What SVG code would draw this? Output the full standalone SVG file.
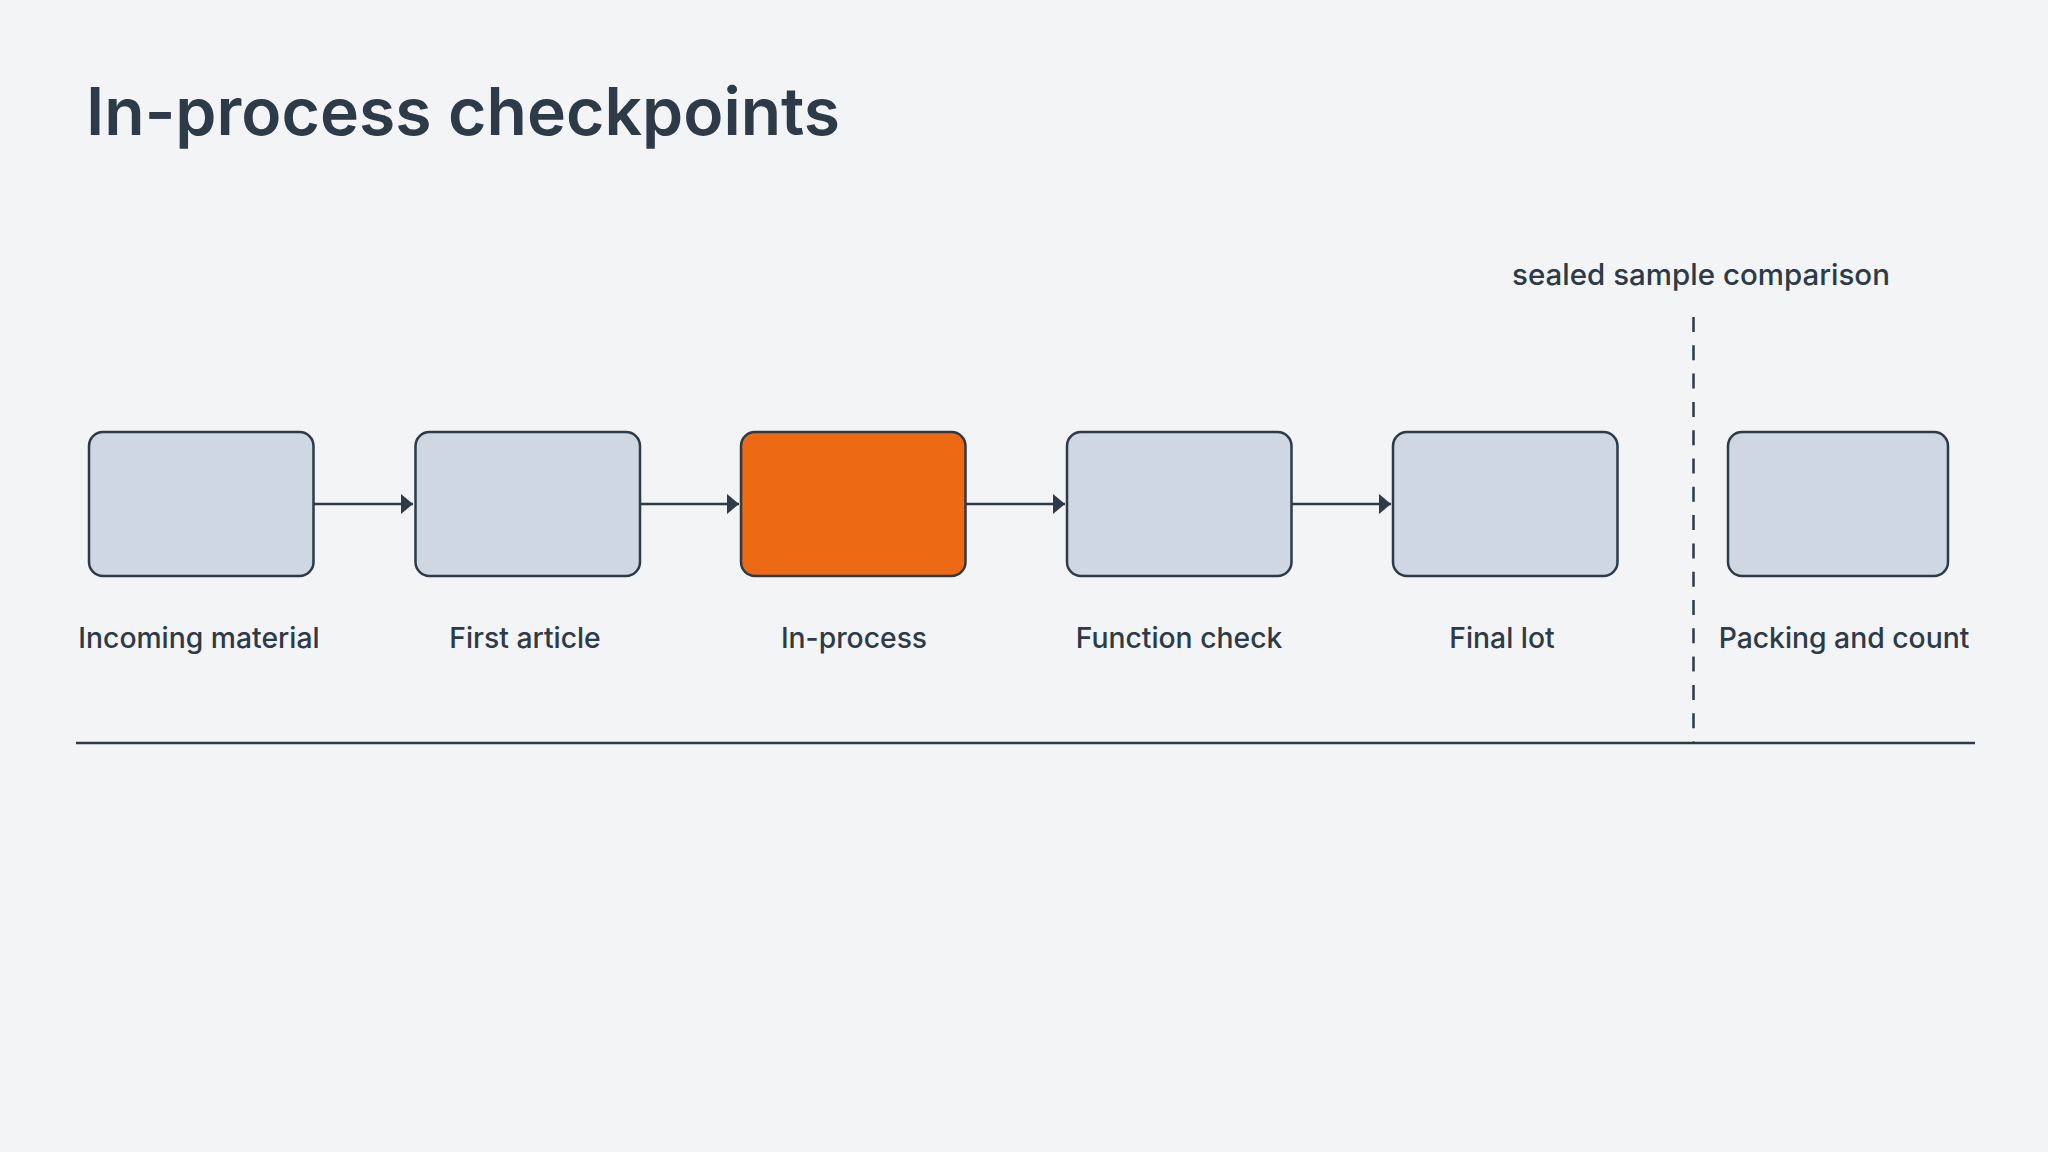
<svg xmlns="http://www.w3.org/2000/svg" width="2048" height="1152" viewBox="0 0 2048 1152">
  <defs>
    <marker id="arrow" viewBox="0 0 12 20" refX="12" refY="10" markerWidth="12" markerHeight="20" markerUnits="userSpaceOnUse" orient="auto">
      <path d="M0,0 L12,10 L0,20 Z" fill="#2d3a48"/>
    </marker>
    <style>
      .box { fill: #cfd8e2; stroke: #2d3a48; stroke-width: 2.5; }
      .hot { fill: #ec6a13; stroke: #2d3a48; stroke-width: 2.5; }
      .label { font-family: Inter, "Liberation Sans", sans-serif; font-size: 28.3px; font-weight: 500; fill: #2d3a48; text-anchor: middle; }
      .note { font-family: Inter, "Liberation Sans", sans-serif; font-size: 29.5px; font-weight: 500; fill: #2d3a48; text-anchor: middle; }
      .title { font-family: Inter, "Liberation Sans", sans-serif; font-size: 66px; font-weight: 600; fill: #2d3a48; }
      .conn { stroke: #2d3a48; stroke-width: 2.5; fill: none; }
    </style>
  </defs>
  <rect x="0" y="0" width="2048" height="1152" fill="#f3f4f6"/>
  <text class="title" x="86" y="135">In-process checkpoints</text>

  <g id="connectors">
    <line class="conn" x1="314" y1="504" x2="413" y2="504" marker-end="url(#arrow)"/>
    <line class="conn" x1="640" y1="504" x2="739" y2="504" marker-end="url(#arrow)"/>
    <line class="conn" x1="966" y1="504" x2="1065" y2="504" marker-end="url(#arrow)"/>
    <line class="conn" x1="1292" y1="504" x2="1391" y2="504" marker-end="url(#arrow)"/>
  </g>

  <g id="node-incoming">
    <rect class="box" x="89" y="432" width="224.5" height="144" rx="14"/>
    <text class="label" x="199" y="648">Incoming material</text>
  </g>
  <g id="node-first-article">
    <rect class="box" x="415.5" y="432" width="224.5" height="144" rx="14"/>
    <text class="label" x="525" y="648">First article</text>
  </g>
  <g id="node-in-process">
    <rect class="hot" x="741" y="432" width="224.5" height="144" rx="14"/>
    <text class="label" x="854" y="648">In-process</text>
  </g>
  <g id="node-function-check">
    <rect class="box" x="1067" y="432" width="224.5" height="144" rx="14"/>
    <text class="label" x="1179" y="648">Function check</text>
  </g>
  <g id="node-final-lot">
    <rect class="box" x="1393" y="432" width="224.5" height="144" rx="14"/>
    <text class="label" x="1502" y="648">Final lot</text>
  </g>
  <g id="node-packing">
    <rect class="box" x="1728" y="432" width="220" height="144" rx="14"/>
    <text class="label" x="1844" y="648">Packing and count</text>
  </g>

  <g id="divider">
    <line x1="1693.5" y1="317" x2="1693.5" y2="743" stroke="#2d3a48" stroke-width="2.5" stroke-dasharray="15 13.3"/>
    <text class="note" x="1701" y="285">sealed sample comparison</text>
  </g>
  <line id="baseline" x1="76" y1="743" x2="1975" y2="743" stroke="#2d3a48" stroke-width="2.5"/>
</svg>
